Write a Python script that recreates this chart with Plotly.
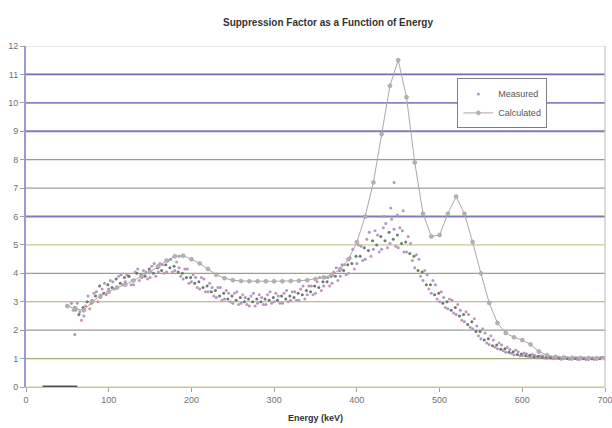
import plotly.graph_objects as go

# ---------------- data ----------------
calc_energy = list(range(50, 701, 10))
calc_value = [2.85, 2.75, 2.7, 3.0, 3.2, 3.35, 3.5, 3.6, 3.75, 3.9,
              4.05, 4.25, 4.45, 4.6, 4.62, 4.5, 4.35, 4.15, 3.95, 3.83,
              3.76, 3.73, 3.72, 3.72, 3.72, 3.72, 3.72, 3.73, 3.74, 3.76,
              3.8, 3.86, 3.95, 4.15, 4.5, 5.1, 6.0, 7.2, 8.9, 10.6,
              11.5, 10.2, 7.9, 6.1, 5.3, 5.35, 6.1, 6.7, 6.1, 5.1,
              4.0, 2.96, 2.25, 1.9, 1.75, 1.65, 1.5, 1.25, 1.12, 1.06,
              1.04, 1.03, 1.02, 1.02, 1.01, 1.01]

m1_energy = list(range(55, 696, 5))
m1_value = [2.95, 2.7, 2.65, 2.5, 3.2, 3.05, 3.35, 3.15, 3.65, 3.45,
            3.7, 3.5, 3.95, 3.7, 3.9, 3.6, 4.15, 3.85, 4.05, 3.85,
            4.35, 4.05, 4.3, 4.05, 4.5, 4.1, 4.2, 3.8, 4.15, 3.7,
            3.85, 3.45, 3.8, 3.35, 3.5, 3.15, 3.5, 3.1, 3.3, 2.95,
            3.35, 2.95, 3.15, 2.85, 3.3, 2.95, 3.15, 2.9, 3.35, 3.0,
            3.2, 2.95, 3.4, 3.05, 3.35, 3.05, 3.55, 3.25, 3.55, 3.3,
            3.85, 3.55, 3.85, 3.65, 4.2, 3.9, 4.3, 4.0, 4.85, 4.35,
            4.95, 4.5, 5.45, 4.85, 5.35, 4.85, 5.75, 5.05, 5.55, 4.9,
            5.5, 4.75, 5.05, 4.2, 4.5, 3.75, 3.95, 3.3, 3.6, 3.0,
            3.15, 2.75, 3.05, 2.55, 2.7, 2.3, 2.55, 2.05, 2.15, 1.7,
            1.9, 1.5, 1.65, 1.35, 1.48, 1.22, 1.32, 1.13, 1.24, 1.1,
            1.17, 1.06, 1.12, 1.03, 1.09, 1.01, 1.06, 1.0, 1.05, 0.99,
            1.04, 0.98, 1.04, 0.98, 1.03, 0.97, 1.03, 0.98, 1.04]

m2_energy = list(range(57, 698, 5))
m2_value = [2.7, 2.95, 2.35, 2.85, 2.75, 3.3, 3.0, 3.45, 3.25, 3.75,
            3.45, 3.9, 3.6, 3.95, 3.6, 4.05, 3.75, 4.1, 3.8, 4.25,
            3.9, 4.35, 4.0, 4.45, 4.05, 4.4, 3.9, 4.15, 3.65, 3.95,
            3.5, 3.85, 3.35, 3.65, 3.2, 3.5, 3.05, 3.4, 3.0, 3.3,
            2.9, 3.25, 2.9, 3.2, 2.85, 3.25, 2.9, 3.25, 2.95, 3.3,
            2.95, 3.3, 3.0, 3.35, 3.05, 3.45, 3.1, 3.55, 3.25, 3.7,
            3.4, 3.85, 3.55, 4.05, 3.75, 4.3, 3.95, 4.55, 4.15, 5.0,
            4.45, 5.2, 4.6, 5.5, 4.75, 5.6, 4.9, 5.9, 4.95, 5.6,
            4.75, 5.3, 4.45, 4.65, 3.9, 4.1, 3.45, 3.75, 3.1, 3.35,
            2.8, 3.1, 2.6, 2.9, 2.35, 2.65, 2.1, 2.4, 1.8, 2.05,
            1.55, 1.8, 1.4, 1.55, 1.28, 1.4, 1.18, 1.3, 1.1, 1.2,
            1.07, 1.15, 1.03, 1.1, 1.01, 1.07, 0.99, 1.06, 0.98, 1.05,
            0.98, 1.04, 0.97, 1.03, 0.97, 1.03, 0.97, 1.02, 1.05]

m3_energy = list(range(59, 695, 5))
m3_value = [2.8, 2.55, 2.8, 3.0, 2.95, 3.2, 3.55, 3.3, 3.6, 3.5,
            3.8, 3.65, 3.85, 3.9, 3.75, 4.0, 3.95, 3.9, 4.15, 4.0,
            4.2, 4.1, 4.3, 4.2, 4.25, 4.05, 4.0, 3.85, 3.85, 3.65,
            3.7, 3.5, 3.55, 3.35, 3.4, 3.2, 3.3, 3.1, 3.2, 3.05,
            3.15, 3.0, 3.1, 3.0, 3.1, 3.0, 3.1, 3.05, 3.15, 3.05,
            3.2, 3.1, 3.2, 3.15, 3.3, 3.25, 3.4, 3.35, 3.55, 3.5,
            3.7, 3.7, 3.9, 3.9, 4.1, 4.1, 4.3, 4.35, 4.6, 4.6,
            4.9, 4.8, 5.15, 5.0, 5.3, 5.15, 5.45, 5.2, 5.35, 5.05,
            5.1, 4.7, 4.6, 4.1, 4.05, 3.6, 3.6, 3.25, 3.3, 2.95,
            3.0, 2.7, 2.8, 2.5, 2.55, 2.2, 2.3, 1.95, 1.95, 1.65,
            1.7, 1.45, 1.48, 1.33, 1.35, 1.22, 1.24, 1.14, 1.16, 1.1,
            1.12, 1.06, 1.08, 1.04, 1.05, 1.02, 1.04, 1.01, 1.03, 1.0,
            1.02, 1.0, 1.02, 0.99, 1.01, 0.99, 1.01, 0.99]

outlier_energy = [59, 185, 433, 441, 445, 449, 456]
outlier_value = [1.85, 4.6, 6.0, 6.3, 7.2, 6.05, 6.2]

base_energy = [20, 62]
base_value = [0, 0]

x_ticks = [0, 100, 200, 300, 400, 500, 600, 700]
y_ticks = list(range(0, 13))
grid_colors = ['#c8c896', '#a8a880', '#9a9a9a', '#a8a878', '#a0a088', '#c8c898',
               '#7e7eba', '#a0a0a0', '#989898', '#7e7ebc', '#8484c0', '#6e6eaa', '#d4d4d4']

# ---------------- figure ----------------
fig = go.Figure()

m_series = [(m1_energy, m1_value, '#a29ad0', True),
            (m2_energy, m2_value, '#cc94ac', False),
            (m3_energy, m3_value, '#6c7c6c', False)]
for ex, vy, col, show in m_series:
    n = min(len(ex), len(vy))
    fig.add_trace(go.Scatter(x=ex[:n], y=vy[:n], mode='markers', name='Measured',
                             legendgroup='m', showlegend=show,
                             marker=dict(size=3, color=col)))
fig.add_trace(go.Scatter(x=outlier_energy, y=outlier_value, mode='markers',
                         legendgroup='m', showlegend=False,
                         marker=dict(size=3, color='#a29ad0')))

fig.add_trace(go.Scatter(x=calc_energy, y=calc_value, mode='lines+markers', name='Calculated',
                         line=dict(color='#b4a2b0', width=1),
                         marker=dict(size=4, color='#96c0b4', line=dict(color='#c890a0', width=0.6))))

fig.add_trace(go.Scatter(x=base_energy, y=base_value, mode='lines', showlegend=False,
                         line=dict(color='#505050', width=3), hoverinfo='skip'))

for yv, col in zip(y_ticks, grid_colors):
    strong = col.startswith('#7') or col.startswith('#8') or col.startswith('#6')
    fig.add_shape(type='line', xref='paper', x0=0, x1=1, yref='y', y0=yv, y1=yv,
                  line=dict(color=col, width=1.8 if strong else 1.2),
                  layer='below')

fig.add_shape(type='line', xref='paper', x0=1, x1=1, yref='paper', y0=0, y1=1,
              line=dict(color='#c4c4c4', width=1.2), layer='below')

fig.update_layout(
    width=612, height=428,
    margin=dict(l=26, r=7, t=46, b=41, autoexpand=False),
    paper_bgcolor='white', plot_bgcolor='white',
    font=dict(family='Liberation Sans, Arial, sans-serif', size=9, color='#606060'),
    title=dict(text='<b>Suppression Factor as a Function of Energy</b>',
               x=(26 + 302) / 612, xanchor='center', y=1 - 22 / 428, yanchor='middle',
               yref='container', font=dict(size=10, color='#333333')),
    showlegend=True,
    legend=dict(x=0.745, y=0.905, xanchor='left', yanchor='top',
                bgcolor='white', bordercolor='#808080', borderwidth=1,
                font=dict(size=9, color='#555555'), tracegroupgap=0,
                itemwidth=30),
    xaxis=dict(range=[0, 700], tickvals=x_ticks, showgrid=False, zeroline=False,
               showline=True, linecolor='#c8c896', linewidth=1.2,
               ticks='outside', ticklen=4, tickcolor='#a0a0a0',
               ticklabeloverflow='allow', automargin=False,
               tickfont=dict(size=9, color='#707070'),
               title=dict(text='<b>Energy (keV)</b>', font=dict(size=9, color='#333333'), standoff=10)),
    yaxis=dict(range=[0, 12], tickvals=y_ticks, showgrid=False, zeroline=False,
               showline=True, linecolor='#9a9ad0', linewidth=2,
               ticks='outside', ticklen=4, tickcolor='#a0a0a0', automargin=False,
               tickfont=dict(size=9, color='#707070')),
)

fig.write_html('out.html')
